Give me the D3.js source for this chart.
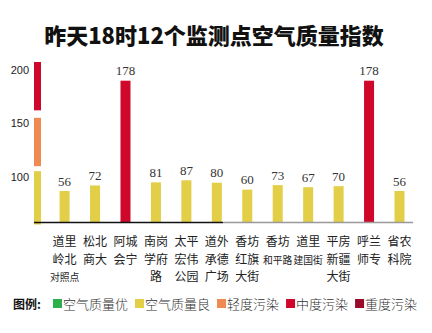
<!DOCTYPE html>
<html><head><meta charset="utf-8">
<script src="https://cdn.jsdelivr.net/npm/d3@7"></script>
<style>body{margin:0;background:#fff}svg{display:block}</style>
</head><body>
<svg id="c" width="432" height="333"></svg>
<script>
const title = "昨天18时12个监测点空气质量指数";
const stationLines = [
  ["道里","岭北","对照点"],
  ["松北","商大"],
  ["阿城","会宁"],
  ["南岗","学府","路"],
  ["太平","宏伟","公园"],
  ["道外","承德","广场"],
  ["香坊","红旗","大街"],
  ["香坊","和平路"],
  ["道里","建国街"],
  ["平房","新疆","大街"],
  ["呼兰","师专"],
  ["省农","科院"]
];
const smallLabels = ["对照点","和平路","建国街"];
const values = [56,72,178,81,87,80,60,73,67,70,178,56];
const tickValues = [100,150,200];
const legendLabels = ["空气质量优","空气质量良","轻度污染","中度污染","重度污染"];
const levelBreaks = [51,101,151,201];
const levelColors = ["#2db04b","#e3ce47","#ef8a52","#cf072b","#9a0a2b"];

const svg = d3.select("#c");
const cats = stationLines.map(d => d.join(""));
const x = d3.scalePoint().domain(cats).range([64.6, 399.5]);
// illustrative (non-proportional) value scale as drawn in the original infographic
const y = d3.scaleLinear().domain([0,56,87,178,200]).range([222,191,180.3,80.7,62]);
const stripY = d3.scaleLinear().domain([50,200]).range([222,62]);
const color = d3.scaleThreshold().domain(levelBreaks).range(levelColors);

svg.append("text").attr("x",214).attr("y",44).attr("text-anchor","middle")
  .attr("font-family","'Noto Sans CJK SC'").attr("font-weight",900)
  .attr("font-size",22).attr("fill","#111").text(title);

// colour strip (axis)
const bands = tickValues.map(v => [v-50, v]);
svg.selectAll("rect.band").data(bands).join("rect").attr("class","band")
  .attr("x",34).attr("width",7)
  .attr("y",d => stripY(d[1]) + (d[1]===200?0:2.5))
  .attr("height",d => stripY(d[0]) - stripY(d[1]) - 2.5 - (d[0]===50?-2.5:2.5))
  .attr("fill",d => color(d[1]));
svg.selectAll("text.tick").data(tickValues).join("text").attr("class","tick")
  .attr("x",29).attr("y",d => stripY(d)+12).attr("text-anchor","end")
  .attr("font-family","'Liberation Sans',Arial").attr("font-size",11).attr("fill","#222")
  .text(d => d);

// bars
svg.selectAll("rect.bar").data(values).join("rect").attr("class","bar")
  .attr("x",(d,i) => x(cats[i]) - 5).attr("width",10)
  .attr("y",d => y(d)).attr("height",d => y(0) - y(d))
  .attr("fill",d => color(d));
svg.selectAll("text.val").data(values).join("text").attr("class","val")
  .attr("x",(d,i) => x(cats[i])).attr("y",d => y(d) - 5.5).attr("text-anchor","middle")
  .attr("font-family","'Liberation Serif','Times New Roman',serif").attr("font-size",13).attr("fill","#333")
  .text(d => d);

// baseline
svg.append("line").attr("x1",34).attr("x2",223).attr("y1",222.5).attr("y2",222.5).attr("stroke","#111").attr("stroke-width",1.5);
svg.append("line").attr("x1",223).attr("x2",413).attr("y1",222.5).attr("y2",222.5).attr("stroke","#999").attr("stroke-width",1.5);

// category labels
const g = svg.selectAll("g.lab").data(stationLines).join("g").attr("class","lab")
  .attr("transform",(d,i) => `translate(${x(cats[i])},0)`);
g.selectAll("text").data(d => d).join("text")
  .attr("x",0).attr("y",(d,j) => 246 + j*17.5).attr("text-anchor","middle")
  .attr("font-family","'Noto Sans CJK SC'").attr("font-size",d => smallLabels.includes(d) ? 9.8 : 12)
  .attr("fill","#222").text(d => d);

// legend
const lg = svg.append("g");
lg.append("text").attr("x",13).attr("y",309).attr("font-family","'Noto Sans CJK SC'")
  .attr("font-weight",700).attr("font-size",12).attr("fill","#111").text("图例:");
let lx = 53;
legendLabels.forEach((t,i) => {
  lg.append("rect").attr("x",lx).attr("y",299).attr("width",9).attr("height",9).attr("fill",levelColors[i]);
  const tx = lg.append("text").attr("x",lx+10).attr("y",308.5).attr("font-family","'Noto Sans CJK SC'")
    .attr("font-weight",300).attr("font-size",13).attr("fill","#333").text(t);
  lx += 10 + tx.node().getComputedTextLength() + 7;
});
</script>
</body></html>
